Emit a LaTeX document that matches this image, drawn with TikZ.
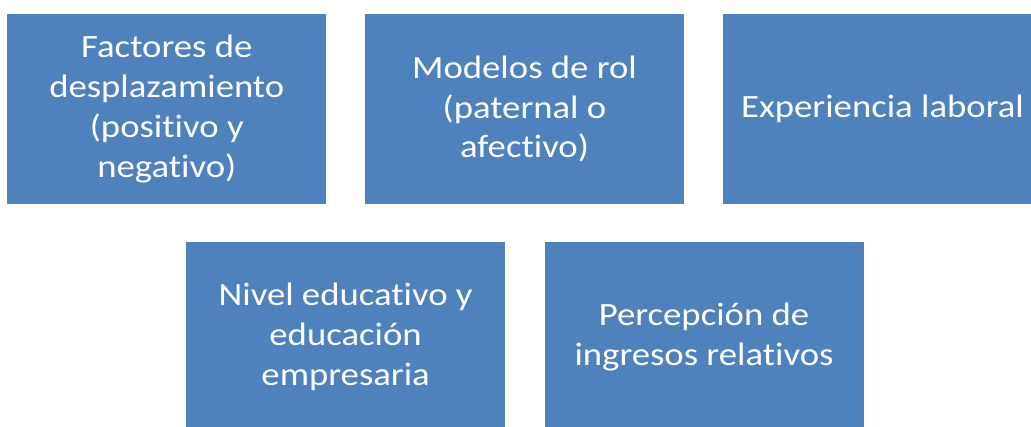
\documentclass[tikz,border=0pt]{standalone}
\usepackage{fontspec}
\setmainfont[Ligatures=CommonOff,FakeStretch=1.13]{Carlito}
\usepackage{tikz}

\definecolor{azulcaja}{HTML}{4F81BD}
\tikzset{
  caja/.style={fill=azulcaja, draw=none, text=white, align=center,
    minimum width=319pt, minimum height=190pt, inner sep=0pt,
    font=\fontsize{32.5pt}{39.8pt}\selectfont}
}

\begin{document}
\begin{tikzpicture}[x=1pt,y=-1pt]
\useasboundingbox (0,0) rectangle (1031,426);
\clip (0,0) rectangle (1031,426);
% fila de arriba
\node[caja] (factores) at (166.8,109) {Factores de\\desplazamiento\\(positivo y\\negativo)};
\node[caja] (modelos) at (524.5,109) {Modelos de rol\\(paternal o\\afectivo)};
\node[caja] (experiencia) at (882.5,109) {Experiencia laboral};
% fila de abajo
\node[caja] (nivel) at (345.6,337) {Nivel educativo y\\educación\\empresaria};
\node[caja] (percepcion) at (704,337) {Percepción de\\ingresos relativos};
\end{tikzpicture}
\end{document}
